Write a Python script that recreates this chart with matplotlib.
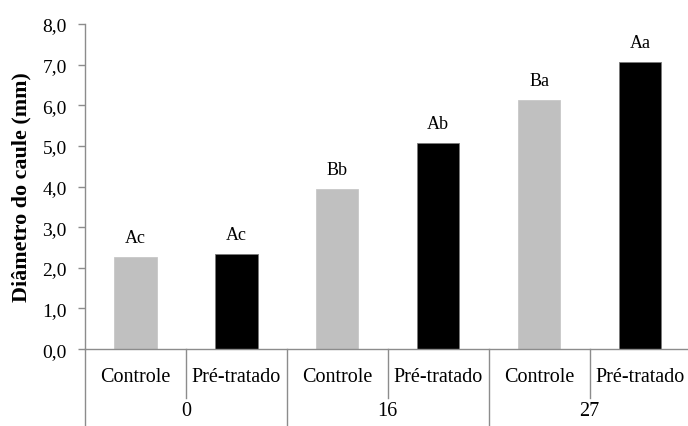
import matplotlib
matplotlib.use("Agg")
import matplotlib.pyplot as plt
from matplotlib.ticker import FixedLocator

plt.rcParams['font.family'] = ['Liberation Serif', 'DejaVu Serif']

groups = ["0", "16", "27"]
treatments = ["Controle", "Pré-tratado"]
controle = [2.26, 3.94, 6.12]
pre_tratado = [2.34, 5.07, 7.06]
letras_controle = ["Ac", "Bb", "Ba"]
letras_pre = ["Ac", "Ab", "Aa"]
yticks = [0, 1, 2, 3, 4, 5, 6, 7, 8]

fig = plt.figure(figsize=(6.88, 4.27), dpi=100)
ax = fig.add_axes([0.1235, 0.180, 0.88, 0.7615])

axis_color = "#8c8c8c"
values, colors, letters = [], [], []
for c, p, lc, lp in zip(controle, pre_tratado, letras_controle, letras_pre):
    values += [c, p]
    colors += ["#c0c0c0", "#000000"]
    letters += [lc, lp]
xs = list(range(len(values)))

ax.bar(xs, values, width=0.42, color=colors,
       edgecolor=["#c8c8c8", "#7a7a7a"] * 3, linewidth=0.6, zorder=2)
for x, v, t in zip(xs, values, letters):
    ax.annotate(t, (x, v), xytext=(0, 8), textcoords="offset points",
                ha="center", va="bottom", fontsize=13)

ax.set_xlim(-0.5, len(values) - 0.5)
ax.set_ylim(0, 8)
ax.yaxis.set_major_locator(FixedLocator(yticks))
ax.set_yticklabels([f"{t:.1f}".replace(".", ",") for t in yticks], fontsize=14)
ax.tick_params(axis="y", length=5, color=axis_color, width=1, pad=8)
ax.set_xticks([])

for s in ["top", "right"]:
    ax.spines[s].set_visible(False)
for s in ["left", "bottom"]:
    ax.spines[s].set_color(axis_color)
    ax.spines[s].set_linewidth(1)

ax.set_ylabel("Diâmetro do caule (mm)", fontsize=15.8, fontweight="bold")
ax.yaxis.set_label_coords(-0.088, 0.5)

# Two-level category axis below the plot
trans = ax.get_xaxis_transform()
ax.plot([-0.5, -0.5], [0, -0.3], transform=trans, color=axis_color, lw=1, clip_on=False)
for i in range(len(values)):
    xd = i + 0.5
    depth = -0.15 if i % 2 == 0 else -0.3
    ax.plot([xd, xd], [0, depth], transform=trans, color=axis_color, lw=1, clip_on=False)
    ax.text(i, -0.085, treatments[i % 2], transform=trans, ha="center", va="center", fontsize=14.5)
for g, name in enumerate(groups):
    ax.text(2 * g + 0.5, -0.19, name, transform=trans, ha="center", va="center", fontsize=14.5)

fig.savefig("out.png", dpi=100)
